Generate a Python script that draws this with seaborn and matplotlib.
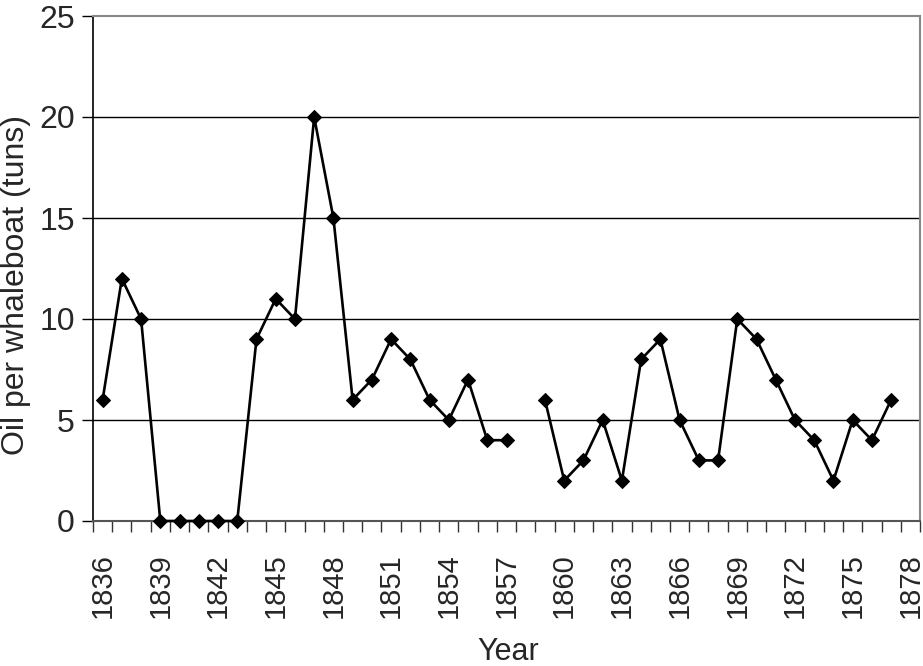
import numpy as np
import pandas as pd
import matplotlib
matplotlib.use("Agg")
import matplotlib.pyplot as plt
import seaborn as sns

years = list(range(1836, 1879))
oil = [6, 12, 10, 0, 0, 0, 0, 0, 9, 11, 10, 20, 15, 6, 7, 9, 8, 6, 5, 7, 4, 4,
       np.nan, 6, 2, 3, 5, 2, 8, 9, 5, 3, 3, 10, 9, 7, 5, 4, 2, 5, 4, 6, np.nan]
tick_years = list(range(1836, 1879, 3))
y_ticks = [0, 5, 10, 15, 20, 25]

sns.set_theme(style="white")
plt.rcParams["font.family"] = ["Liberation Sans", "DejaVu Sans"]

df = pd.DataFrame({"year": years, "oil": oil})
df["pos"] = np.arange(len(df))
df["segment"] = df["oil"].isna().cumsum()
df = df.dropna()

fig = plt.figure(figsize=(9.23, 6.66), dpi=100)
ax = fig.add_axes([93 / 923, 1 - 521 / 666, (920 - 93) / 923, (521 - 16) / 666])

sns.lineplot(data=df, x="pos", y="oil", units="segment", estimator=None,
             color="black", linewidth=1.9, marker="D", markersize=7.5,
             markeredgecolor="black", markerfacecolor="black", ax=ax, legend=False)
for ln in ax.lines:
    ln.set_clip_on(False)
    ln.set_zorder(5)

n = len(years)
ax.set_xlim(-0.5, n - 0.5)
ax.set_ylim(0, 25)
ax.set_yticks(y_ticks)
ax.set_yticklabels([str(v) for v in y_ticks], fontsize=23)
for v in y_ticks[1:-1]:
    ax.axhline(v, color="black", linewidth=1.0, zorder=0)

ax.set_xticks(np.arange(-0.5, n, 1.0))
ax.set_xticklabels([])
ax.set_xticks([years.index(y) for y in tick_years], minor=True)
ax.set_xticklabels([str(y) for y in tick_years], minor=True, rotation=90, fontsize=21)
ax.tick_params(axis="x", which="major", direction="out", length=8, width=1, color="#333333", bottom=True)
ax.tick_params(axis="x", which="minor", length=0, pad=23, bottom=True)
ax.tick_params(axis="y", direction="out", length=8, width=1, color="black", left=True, pad=5)

ax.set_xlabel("Year", fontsize=22)
ax.xaxis.set_label_coords((508 - 93) / 827, (521 - 652) / 505)
ax.xaxis.label.set_verticalalignment("center")
ax.set_ylabel("Oil per whaleboat (tuns)", fontsize=23)
ax.yaxis.set_label_coords((16 - 93) / 827, (521 - 285) / 505)
ax.yaxis.label.set_verticalalignment("center")

for s in ["top", "right"]:
    ax.spines[s].set_color("#888888")
    ax.spines[s].set_linewidth(1.5)
ax.spines["left"].set_color("black")
ax.spines["left"].set_linewidth(1.2)
ax.spines["bottom"].set_color("#555555")
ax.spines["bottom"].set_linewidth(1.5)

fig.savefig("out.png", dpi=100)
